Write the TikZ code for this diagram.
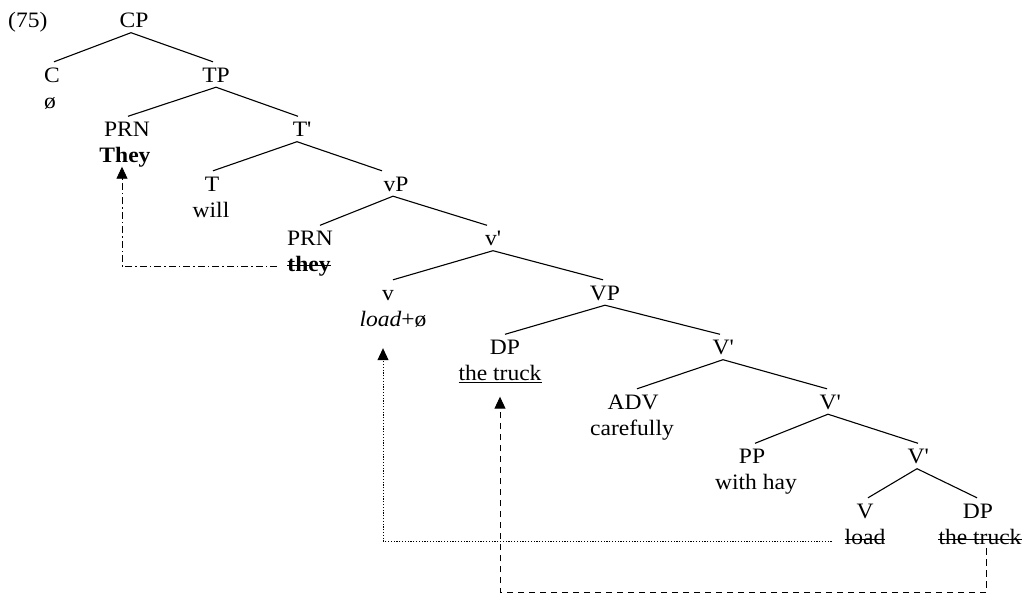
\documentclass[tikz,border=0pt]{standalone}
\usepackage{fontspec}
\setmainfont[FakeStretch=1.07]{Liberation Serif}
\usetikzlibrary{arrows.meta}
\newcommand{\pr}{\textquotesingle}
\begin{document}
\begin{tikzpicture}[x=1pt,y=-1pt,
  every node/.style={font=\fontsize{22}{26}\selectfont, text=black},
  cat/.style={anchor=base, inner xsep=0pt, inner ysep=5pt, text height=15pt, text depth=0pt},
  wrd/.style={anchor=base, inner xsep=0pt, inner ysep=0pt, text height=15pt, text depth=4pt},
  branch/.style={line width=1.1pt, black},
  strike/.style={line width=1pt, black},
  arr/.style={-{Triangle[width=11pt,length=12pt]}},
  dashdotline/.style={arr, line width=0.9pt, dash pattern=on 7pt off 3pt on 1.5pt off 3pt},
  dotline/.style={arr, line width=0.9pt, dash pattern=on 1.2pt off 1.6pt},
  dashline/.style={arr, line width=1pt, dash pattern=on 6.5pt off 4.5pt}
]
\path[use as bounding box] (0,0) rectangle (1025,592);

\node[anchor=base west, inner sep=0pt] (num) at (8,27.5) {(75)};
\node[cat] (CP) at (134,27.5) {CP};
\node[cat] (C) at (52,82) {C};
\node[wrd] (Cw) at (50,108) {ø};
\node[cat] (TP) at (216,82) {TP};
\node[cat] (PRNa) at (127,136.5) {PRN};
\node[wrd] (PRNaw) at (125,162.5) {\textbf{They}};
\node[cat] (Tbar) at (302,136.5) {T\pr};
\node[cat] (T) at (212,191) {T};
\node[wrd] (Tw) at (211,217) {will};
\node[cat] (vP) at (396,191) {vP};
\node[cat] (PRNb) at (310,245.5) {PRN};
\node[wrd] (PRNbw) at (309,271.5) {\textbf{they}};
\node[cat] (vbar) at (493,245.5) {v\pr};
\node[cat] (v) at (388,300) {v};
\node[wrd] (vw) at (393,326) {\textit{load}+ø};
\node[cat] (VP) at (605,300) {VP};
\node[cat] (DPa) at (505,354.5) {DP};
\node[wrd] (DPaw) at (500,380.5) {\underline{the truck}};
\node[cat] (Vbara) at (723,354.5) {V\pr};
\node[cat] (ADV) at (633,409) {ADV};
\node[wrd] (ADVw) at (632,435) {carefully};
\node[cat] (Vbarb) at (830,409) {V\pr};
\node[cat] (PP) at (752,463.5) {PP};
\node[wrd] (PPw) at (756,489.5) {with hay};
\node[cat] (Vbarc) at (918,463.5) {V\pr};
\node[cat] (V) at (865,518) {V};
\node[wrd] (Vw) at (865,544) {load};
\node[cat] (DPb) at (978,518) {DP};
\node[wrd] (DPbw) at (980,544) {the truck};

% strike-throughs
\draw[strike] ([yshift=6pt]PRNbw.base west) -- ([yshift=6pt]PRNbw.base east);
\draw[strike] ([yshift=5pt]Vw.base west) -- ([yshift=5pt]Vw.base east);
\draw[strike] ([yshift=5pt]DPbw.base west) -- ([yshift=5pt]DPbw.base east);

% branches
\draw[branch] ([xshift=-3pt]CP.south) -- ([xshift=2pt]C.north);
\draw[branch] ([xshift=-3pt]CP.south) -- ([xshift=-3pt]TP.north);
\draw[branch] (TP.south) -- ([xshift=1pt]PRNa.north);
\draw[branch] (TP.south) -- ([xshift=-4pt]Tbar.north);
\draw[branch] ([xshift=-5pt]Tbar.south) -- ([xshift=1pt]T.north);
\draw[branch] ([xshift=-5pt]Tbar.south) -- ([xshift=-14pt]vP.north);
\draw[branch] ([xshift=-3pt]vP.south) -- ([xshift=10pt]PRNb.north);
\draw[branch] ([xshift=-3pt]vP.south) -- ([xshift=-6pt]vbar.north);
\draw[branch] (vbar.south) -- ([xshift=5pt]v.north);
\draw[branch] (vbar.south) -- ([xshift=-2pt]VP.north);
\draw[branch] (VP.south) -- (DPa.north);
\draw[branch] (VP.south) -- ([xshift=-3pt]Vbara.north);
\draw[branch] (Vbara.south) -- ([xshift=4pt]ADV.north);
\draw[branch] (Vbara.south) -- ([xshift=-3pt]Vbarb.north);
\draw[branch] ([xshift=-2pt]Vbarb.south) -- ([xshift=3pt]PP.north);
\draw[branch] ([xshift=-2pt]Vbarb.south) -- (Vbarc.north);
\draw[branch] ([xshift=-1pt]Vbarc.south) -- ([xshift=3pt]V.north);
\draw[branch] ([xshift=-1pt]Vbarc.south) -- ([xshift=-1pt]DPb.north);

% movement arrows
\draw[dashdotline] ([shift={(-10,-5)}]PRNbw.base west) -| ([xshift=-3pt]PRNaw.south);
\draw[dotline] ([shift={(-13,-3)}]Vw.base west) -| ([shift={(-10,18)}]vw.south);
\coordinate (turn) at ([shift={(6,44)}]DPbw.south);
\draw[dashline] ([xshift=6pt]DPbw.south) -- (turn) -| ([yshift=-12pt]DPaw.south);
\end{tikzpicture}
\end{document}
